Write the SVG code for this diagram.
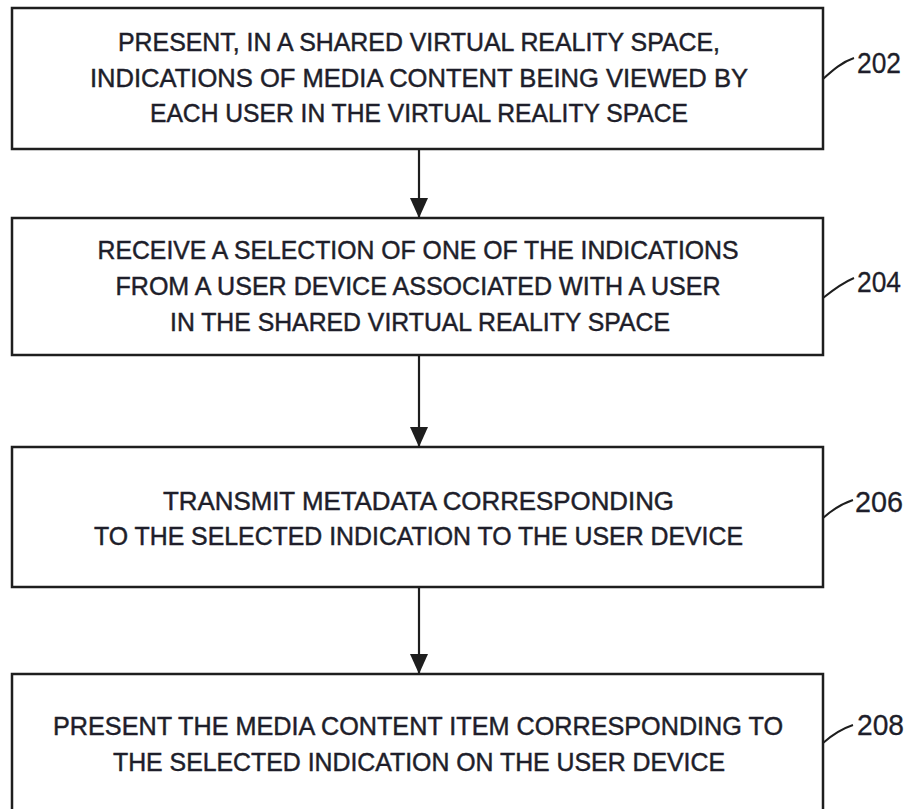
<svg xmlns="http://www.w3.org/2000/svg" width="912" height="809" viewBox="0 0 912 809">
<style>
.box{fill:#fff;stroke:#1e1e1e;stroke-width:2.5}
.t{font-family:"Liberation Sans",Arial,sans-serif;font-size:25px;fill:#1e1e2a;stroke:#1e1e2a;stroke-width:0.45;text-anchor:middle}
.lbl{font-family:"Liberation Sans",Arial,sans-serif;font-size:29px;fill:#1e1e2a;stroke:#1e1e2a;stroke-width:0.3}
.lead{fill:none;stroke:#1e1e1e;stroke-width:2}
.conn{stroke:#1e1e1e;stroke-width:2.2;fill:none}
</style>
<defs>
<marker id="ah" markerUnits="userSpaceOnUse" markerWidth="22" markerHeight="20" refX="20" refY="10" orient="auto">
<path d="M0,1 L20,10 L0,19 Z" fill="#1e1e1e"/>
</marker>
</defs>
<rect width="912" height="809" fill="#fff"/>
<g id="connectors">
<line class="conn" x1="419" y1="149" x2="419" y2="218" marker-end="url(#ah)"/>
<line class="conn" x1="419" y1="355" x2="419" y2="447" marker-end="url(#ah)"/>
<line class="conn" x1="419" y1="587" x2="419" y2="674" marker-end="url(#ah)"/>
</g>
<g id="n202">
<rect class="box" x="12" y="8" width="811" height="141"/>
<text class="t" x="419" y="51" textLength="602" lengthAdjust="spacingAndGlyphs">PRESENT, IN A SHARED VIRTUAL REALITY SPACE,</text>
<text class="t" x="419" y="87" textLength="658" lengthAdjust="spacingAndGlyphs">INDICATIONS OF MEDIA CONTENT BEING VIEWED BY</text>
<text class="t" x="419" y="122" textLength="538" lengthAdjust="spacingAndGlyphs">EACH USER IN THE VIRTUAL REALITY SPACE</text>
<path class="lead" d="M823,79 C833,70 842,62 854,58"/>
<text class="lbl" x="857" y="73" textLength="44" lengthAdjust="spacingAndGlyphs">202</text>
</g>
<g id="n204">
<rect class="box" x="12" y="218" width="811" height="137"/>
<text class="t" x="418" y="259" textLength="641" lengthAdjust="spacingAndGlyphs">RECEIVE A SELECTION OF ONE OF THE INDICATIONS</text>
<text class="t" x="418" y="295" textLength="605" lengthAdjust="spacingAndGlyphs">FROM A USER DEVICE ASSOCIATED WITH A USER</text>
<text class="t" x="420" y="331" textLength="500" lengthAdjust="spacingAndGlyphs">IN THE SHARED VIRTUAL REALITY SPACE</text>
<path class="lead" d="M823,298 C833,290 842,283 854,278"/>
<text class="lbl" x="857" y="292" textLength="44" lengthAdjust="spacingAndGlyphs">204</text>
</g>
<g id="n206">
<rect class="box" x="12" y="447" width="811" height="140"/>
<text class="t" x="418.5" y="510" textLength="511" lengthAdjust="spacingAndGlyphs">TRANSMIT METADATA CORRESPONDING</text>
<text class="t" x="418.5" y="545" textLength="649" lengthAdjust="spacingAndGlyphs">TO THE SELECTED INDICATION TO THE USER DEVICE</text>
<path class="lead" d="M823,518 C832,510 841,504 853,500"/>
<text class="lbl" x="855" y="512" textLength="48" lengthAdjust="spacingAndGlyphs">206</text>
</g>
<g id="n208">
<rect class="box" x="12" y="674" width="811" height="145"/>
<text class="t" x="418" y="735" textLength="730" lengthAdjust="spacingAndGlyphs">PRESENT THE MEDIA CONTENT ITEM CORRESPONDING TO</text>
<text class="t" x="419" y="771" textLength="612" lengthAdjust="spacingAndGlyphs">THE SELECTED INDICATION ON THE USER DEVICE</text>
<path class="lead" d="M823,743 C832,735 841,729 853,725"/>
<text class="lbl" x="857" y="735" textLength="47" lengthAdjust="spacingAndGlyphs">208</text>
</g>
</svg>
